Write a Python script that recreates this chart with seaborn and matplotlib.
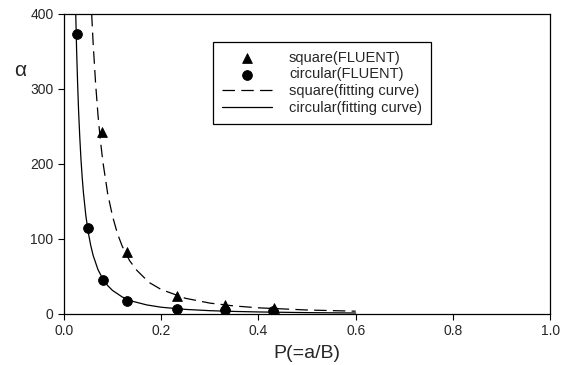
import numpy as np
import pandas as pd
import matplotlib
matplotlib.use("Agg")
import matplotlib.pyplot as plt
import seaborn as sns

# FLUENT results
p_square = [0.0775, 0.129, 0.232, 0.331, 0.432]
alpha_square = [242, 82, 24, 12, 8]
p_circular = [0.026, 0.049, 0.080, 0.130, 0.232, 0.331, 0.430]
alpha_circular = [373, 114, 45, 17.7, 7, 5, 4]

# fitting curves, sampled along the drawn lines
p_square_fit = [0.057, 0.06, 0.065, 0.07, 0.075, 0.08, 0.09, 0.1, 0.11, 0.12,
                0.135, 0.15, 0.175, 0.2, 0.25, 0.3, 0.35, 0.4, 0.5, 0.6]
alpha_square_fit = [400, 361, 308, 265, 231, 203, 160, 130, 107, 90,
                    71, 58, 42, 32.5, 20.8, 14.4, 10.6, 8.1, 5.2, 3.6]
p_circular_fit = [0.024, 0.026, 0.028, 0.03, 0.0325, 0.035, 0.0375, 0.04, 0.045,
                  0.05, 0.055, 0.06, 0.07, 0.08, 0.09, 0.1, 0.12, 0.14, 0.17,
                  0.2, 0.25, 0.3, 0.35, 0.4, 0.5, 0.6]
alpha_circular_fit = [406, 352, 309, 272, 236, 206, 182, 162, 131,
                      108.5, 91.5, 78, 59, 46.6, 37.7, 31.2, 22.5, 17.0, 12.0,
                      8.9, 6.0, 4.3, 3.3, 2.6, 1.7, 1.2]

x_ticks = [0.0, 0.2, 0.4, 0.6, 0.8, 1.0]
y_ticks = [0, 100, 200, 300, 400]

sns.set_style("ticks")
plt.rcParams['font.family'] = ['Liberation Sans', 'DejaVu Sans']

fig = plt.figure(figsize=(5.66, 3.65), dpi=100)
ax = fig.add_axes([0.113, 0.140, 0.859, 0.822])

sq = pd.DataFrame({'p': p_square, 'alpha': alpha_square})
ci = pd.DataFrame({'p': p_circular, 'alpha': alpha_circular})
sq_fit = pd.DataFrame({'p': p_square_fit, 'alpha': alpha_square_fit})
ci_fit = pd.DataFrame({'p': p_circular_fit, 'alpha': alpha_circular_fit})

sns.lineplot(data=sq_fit, x='p', y='alpha', ax=ax, color='black', lw=0.9,
             sort=False, label='square(fitting curve)', zorder=2)
sns.lineplot(data=ci_fit, x='p', y='alpha', ax=ax, color='black', lw=0.9,
             sort=False, label='circular(fitting curve)', zorder=2)
ax.lines[0].set_dashes([10, 5])

sns.scatterplot(data=sq, x='p', y='alpha', ax=ax, marker='^', s=50,
                color='black', edgecolor='black', label='square(FLUENT)', zorder=3)
sns.scatterplot(data=ci, x='p', y='alpha', ax=ax, marker='o', s=50,
                color='black', edgecolor='black', label='circular(FLUENT)', zorder=3)

ax.set_xlim(0, 1.0)
ax.set_ylim(0, 400)
ax.set_xticks(x_ticks)
ax.set_xticklabels([f"{t:.1f}" for t in x_ticks])
ax.set_yticks(y_ticks)
ax.tick_params(labelsize=10, length=4, width=0.8, color='black', direction='out')
for s in ax.spines.values():
    s.set_color('black')
    s.set_linewidth(0.9)

ax.set_xlabel('P(=a/B)', fontsize=14, labelpad=5)
ax.set_ylabel('α', fontsize=15, rotation=0)
ax.yaxis.set_label_coords(-0.09, 0.78)

handles, labels = ax.get_legend_handles_labels()
order = [labels.index(l) for l in ['square(FLUENT)', 'circular(FLUENT)',
                                    'square(fitting curve)', 'circular(fitting curve)']]
leg = ax.legend([handles[i] for i in order], [labels[i] for i in order],
                loc='upper left', bbox_to_anchor=(0.307, 0.907), borderaxespad=0,
                fontsize=10.5, frameon=True, fancybox=False, edgecolor='black',
                framealpha=1, handlelength=3.4, handletextpad=1.2,
                borderpad=0.6, labelspacing=0.2)
leg.get_frame().set_linewidth(0.9)

fig.savefig('out.png', dpi=100)
